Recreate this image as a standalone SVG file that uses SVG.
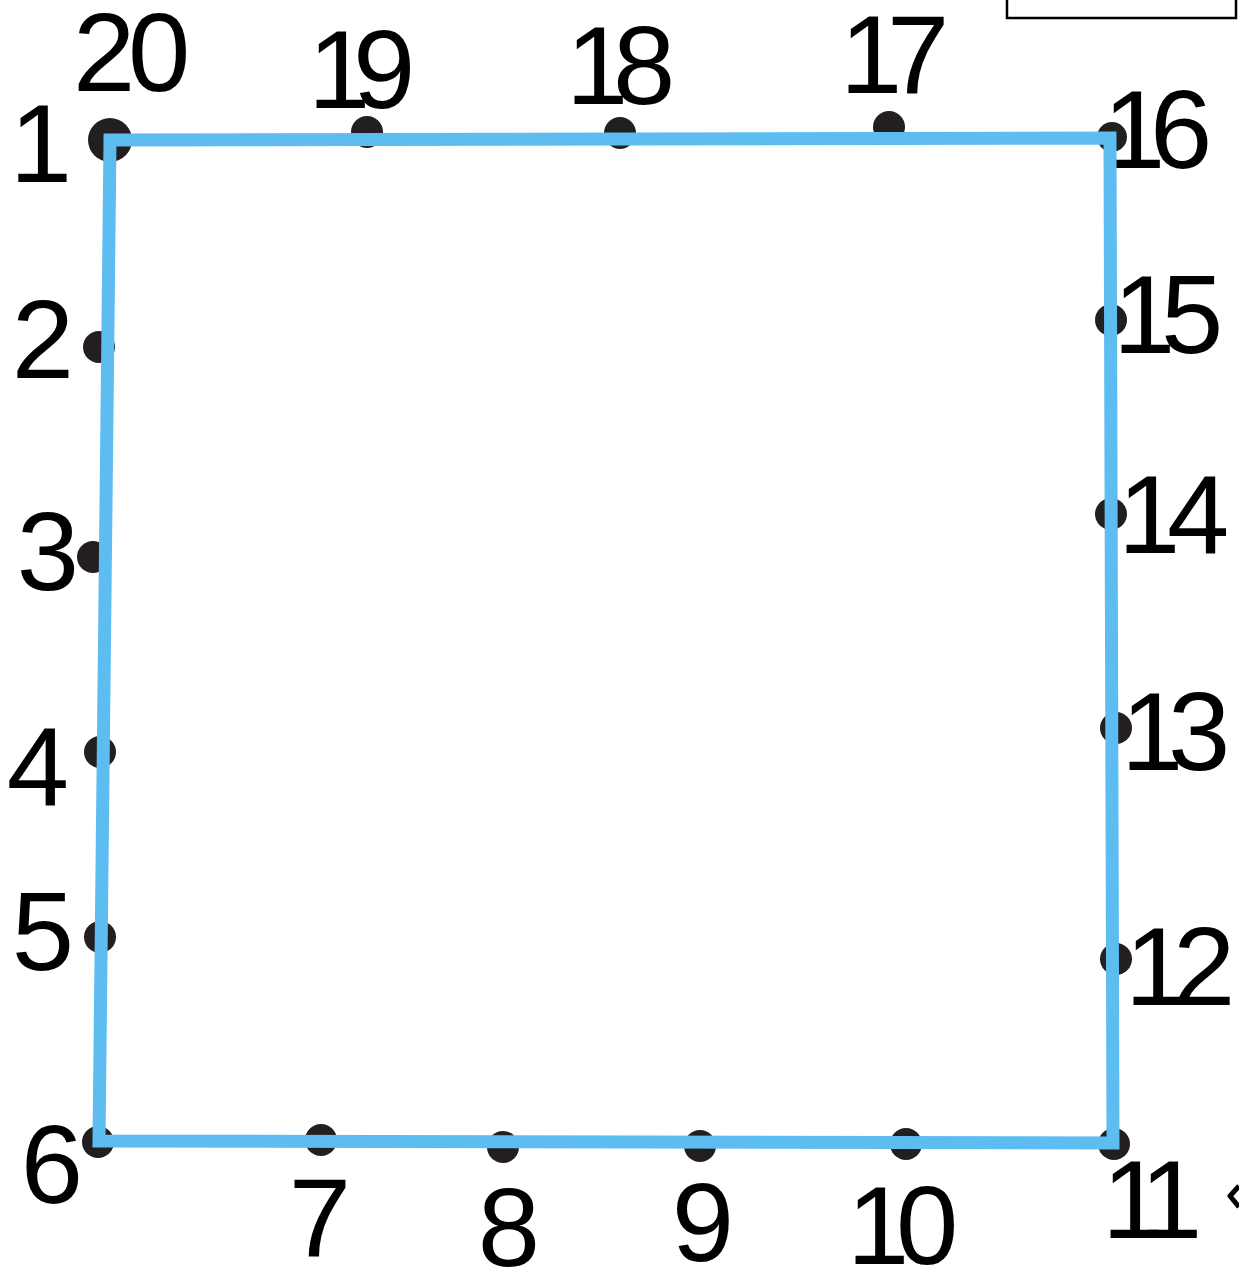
<svg xmlns="http://www.w3.org/2000/svg" width="1239" height="1270" viewBox="0 0 1239 1270">
<style>
.lbl{font-family:"Liberation Sans",Arial,sans-serif;font-size:112px;fill:#000;text-anchor:middle}
.two{text-anchor:start}
.dot{fill:#231F20}
.edge{fill:none;stroke:#5DBDF1;stroke-width:13;stroke-linejoin:miter}
</style>
<rect x="0" y="0" width="1239" height="1270" fill="#fff"/>
<rect x="1007" y="-10" width="229" height="28" fill="none" stroke="#000" stroke-width="2.5"/>
<path d="M1239,1186 L1230,1196 L1239,1207" fill="none" stroke="#000" stroke-width="5" stroke-linejoin="round"/>
<g id="nodes">
<g id="n1"><circle class="dot" cx="110" cy="140" r="22"/><text class="lbl" x="41" y="182">1</text></g>
<g id="n2"><circle class="dot" cx="99" cy="347" r="16"/><text class="lbl" x="43" y="378">2</text></g>
<g id="n3"><circle class="dot" cx="93" cy="557" r="16"/><text class="lbl" x="48" y="590">3</text></g>
<g id="n4"><circle class="dot" cx="100" cy="752" r="16"/><text class="lbl" x="38" y="805">4</text></g>
<g id="n5"><circle class="dot" cx="100" cy="937" r="16"/><text class="lbl" x="43" y="970">5</text></g>
<g id="n6"><circle class="dot" cx="98" cy="1142" r="16"/><text class="lbl" x="52" y="1203">6</text></g>
<g id="n7"><circle class="dot" cx="321" cy="1140" r="16"/><text class="lbl" x="320" y="1256">7</text></g>
<g id="n8"><circle class="dot" cx="503" cy="1147" r="16"/><text class="lbl" x="509" y="1266">8</text></g>
<g id="n9"><circle class="dot" cx="700" cy="1146" r="16"/><text class="lbl" x="703" y="1261">9</text></g>
<g id="n10"><circle class="dot" cx="906" cy="1144" r="16"/><text class="lbl two" x="847 896" y="1264">10</text></g>
<g id="n11"><circle class="dot" cx="1114" cy="1144" r="16"/><text class="lbl two" x="1102 1140" y="1238">11</text></g>
<g id="n12"><circle class="dot" cx="1116" cy="959" r="16"/><text class="lbl two" x="1125 1173" y="1005">12</text></g>
<g id="n13"><circle class="dot" cx="1116" cy="728" r="16"/><text class="lbl two" x="1121 1168" y="770">13</text></g>
<g id="n14"><circle class="dot" cx="1111" cy="514" r="16"/><text class="lbl two" x="1118 1167" y="553">14</text></g>
<g id="n15"><circle class="dot" cx="1111" cy="320" r="16"/><text class="lbl two" x="1113 1161" y="353">15</text></g>
<g id="n16"><circle class="dot" cx="1112" cy="137" r="15"/><text class="lbl two" x="1103 1150" y="168">16</text></g>
<g id="n17"><circle class="dot" cx="889" cy="127" r="16"/><text class="lbl two" x="840 887" y="93">17</text></g>
<g id="n18"><circle class="dot" cx="620" cy="133" r="16"/><text class="lbl two" x="566 613" y="104">18</text></g>
<g id="n19"><circle class="dot" cx="367" cy="132" r="16"/><text class="lbl two" x="308 353" y="108">19</text></g>
<g id="n20"><text class="lbl two" x="73 128" y="91">20</text></g>
</g>
<g id="connectors">
<polygon class="edge" points="110,140 1110,138 1113,1143 99,1141"/>
</g>
</svg>
